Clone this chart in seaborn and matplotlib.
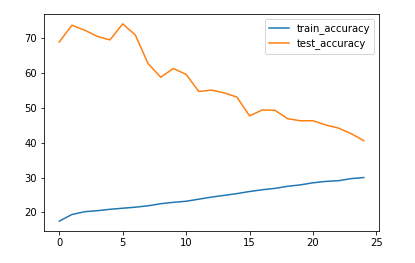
import matplotlib
matplotlib.use("Agg")
import matplotlib.pyplot as plt
import seaborn as sns
import pandas as pd

epochs = list(range(25))
train_accuracy = [17.5, 19.4, 20.2, 20.5, 20.9, 21.2, 21.5, 21.9, 22.5, 22.9,
                  23.2, 23.8, 24.4, 24.9, 25.4, 26.0, 26.5, 26.9, 27.5, 27.9,
                  28.5, 28.9, 29.1, 29.7, 30.0]
test_accuracy = [68.9, 73.7, 72.3, 70.5, 69.5, 74.1, 70.9, 62.7, 58.8, 61.3,
                 59.6, 54.7, 55.1, 54.3, 53.1, 47.7, 49.4, 49.3, 46.9, 46.3,
                 46.3, 45.1, 44.2, 42.6, 40.6]

df = pd.DataFrame({"epoch": epochs + epochs,
                   "value": train_accuracy + test_accuracy,
                   "series": ["train_accuracy"] * 25 + ["test_accuracy"] * 25})

W, H = 415, 263
fig = plt.figure(figsize=(W / 72, H / 72), dpi=72)
ax = fig.add_axes([44 / W, 1 - 231 / H, (379 - 44) / W, (231 - 14) / H])
sns.lineplot(data=df, x="epoch", y="value", hue="series",
             palette=["#1f77b4", "#ff7f0e"], ax=ax, linewidth=1.5)
ax.set_xlabel("")
ax.set_ylabel("")
ax.set_xticks([0, 5, 10, 15, 20, 25])
ax.legend(loc="upper right", title=None)
fig.savefig("out.png", dpi=72)
